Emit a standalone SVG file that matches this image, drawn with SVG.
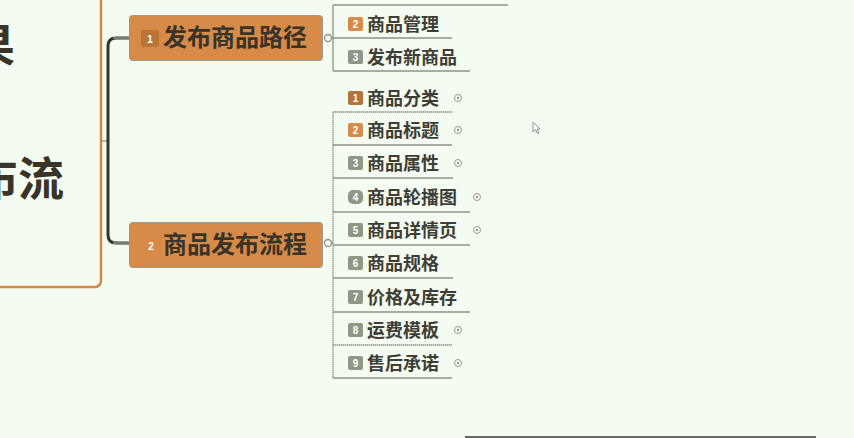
<svg xmlns="http://www.w3.org/2000/svg" width="854" height="438" viewBox="0 0 854 438">
<defs>
<style>
.bg{fill:#f4fbf1}
.main{fill:#d68c48;stroke:#9a9a88;stroke-width:1}
.mt{font-family:"Noto Sans CJK SC","Noto Sans",sans-serif;font-weight:bold;font-size:24px;fill:#3a3328}
.ct{font-family:"Noto Sans CJK SC","Noto Sans",sans-serif;font-weight:bold;font-size:46px;fill:#3a3328}
.st{font-family:"Noto Sans CJK SC","Noto Sans",sans-serif;font-weight:bold;font-size:18px;fill:#3e3e36}
.ul{stroke:#8c9484;stroke-width:1.5;fill:none}
.ln{stroke:#8c9484;stroke-width:1.3;fill:none}
.bo{fill:#d68c48}
.bg2{fill:#8f9785}
.bb{fill:#b5723a}
.bn{font-family:"Liberation Sans",sans-serif;font-weight:bold;font-size:10px;fill:#ffffff;text-anchor:middle}
.ic{fill:none;stroke:#9a9a8a;stroke-width:1}
.icd{fill:#9a9a8a}
.kn{fill:#f4fbf1;stroke:#8c9484;stroke-width:1.3}
</style>
</defs>
<rect class="bg" x="0" y="0" width="854" height="438"/>

<g id="center">
<rect x="-20" y="-20" width="121" height="307" rx="6" fill="#f4fbf1" stroke="#d48a45" stroke-width="2.5"/>
<text class="ct" x="15" y="62" text-anchor="end">果</text>
<text class="ct" x="64" y="195" text-anchor="end">布流</text>
</g>

<g id="connectors">
<path d="M101 141 H108" class="ln"/>
<path d="M130 38 H116 Q108 38 108 46 V235 Q108 243 116 243 H130" fill="none" stroke="#35352c" stroke-width="3"/>
<path d="M113 38 H130 M113 243 H130" class="ln"/>
<path d="M331 38 H333" class="ln"/>
<path d="M333 5 V71" class="ln"/>
<path d="M333 5 H508" class="ul"/>
<path d="M331 243 H333" class="ln"/>
<path d="M333 112 V378" class="ln" stroke-dasharray="1.5 0.5"/>
</g>

<g id="node1">
<rect class="main" x="129.5" y="15.5" width="193" height="45" rx="3"/>
<rect x="141" y="30" width="18" height="17" rx="2" fill="#b97538"/>
<text class="bn" x="150" y="43" font-size="12px">1</text>
<text class="mt" x="163" y="46">发布商品路径</text>
<circle class="kn" cx="328" cy="38" r="3.5"/>
</g>

<g id="node2">
<rect class="main" x="129.5" y="222.5" width="193" height="45" rx="3"/>
<text class="bn" x="151" y="250" font-size="13px">2</text>
<text class="mt" x="163" y="253">商品发布流程</text>
<circle class="kn" cx="328" cy="243" r="3.5"/>
</g>

<g id="n1c1">
<rect class="bo" x="348" y="17" width="15" height="14" rx="2"/>
<text class="bn" x="355.5" y="28">2</text>
<text class="st" x="367" y="31">商品管理</text>
<path class="ul" d="M333 38 H452"/>
</g>
<g id="n1c2">
<rect class="bg2" x="348" y="50" width="15" height="14" rx="2"/>
<text class="bn" x="355.5" y="61">3</text>
<text class="st" x="367" y="64">发布新商品</text>
<path class="ul" d="M333 71 H470"/>
</g>

<g id="n2c1">
<rect class="bb" x="348" y="91" width="15" height="14" rx="2"/>
<text class="bn" x="355.5" y="102">1</text>
<text class="st" x="367" y="105">商品分类</text>
<path class="ul" d="M333 112 H452" stroke-dasharray="1.5 0.5"/>
<circle class="ic" cx="458" cy="98" r="3.5"/><circle class="icd" cx="458" cy="98" r="1.2"/>
</g>
<g id="n2c2">
<rect class="bo" x="348" y="123" width="15" height="14" rx="2"/>
<text class="bn" x="355.5" y="134">2</text>
<text class="st" x="367" y="137">商品标题</text>
<path class="ul" d="M333 145 H452"/>
<circle class="ic" cx="458" cy="130" r="3.5"/><circle class="icd" cx="458" cy="130" r="1.2"/>
</g>
<g id="n2c3">
<rect class="bg2" x="348" y="156" width="15" height="14" rx="2"/>
<text class="bn" x="355.5" y="167">3</text>
<text class="st" x="367" y="170">商品属性</text>
<path class="ul" d="M333 178 H453"/>
<circle class="ic" cx="458" cy="163" r="3.5"/><circle class="icd" cx="458" cy="163" r="1.2"/>
</g>
<g id="n2c4">
<rect class="bg2" x="348" y="190" width="15" height="14" rx="5"/>
<text class="bn" x="355.5" y="201">4</text>
<text class="st" x="367" y="204">商品轮播图</text>
<path class="ul" d="M333 212 H470"/>
<circle class="ic" cx="477" cy="197" r="3.5"/><circle class="icd" cx="477" cy="197" r="1.2"/>
</g>
<g id="n2c5">
<rect class="bg2" x="348" y="223" width="15" height="14" rx="2"/>
<text class="bn" x="355.5" y="234">5</text>
<text class="st" x="367" y="237">商品详情页</text>
<path class="ul" d="M333 245 H470"/>
<circle class="ic" cx="477" cy="230" r="3.5"/><circle class="icd" cx="477" cy="230" r="1.2"/>
</g>
<g id="n2c6">
<rect class="bg2" x="348" y="256" width="15" height="14" rx="2"/>
<text class="bn" x="355.5" y="267">6</text>
<text class="st" x="367" y="270">商品规格</text>
<path class="ul" d="M333 278 H453"/>
</g>
<g id="n2c7">
<rect class="bg2" x="348" y="290" width="15" height="14" rx="2"/>
<text class="bn" x="355.5" y="301">7</text>
<text class="st" x="367" y="304">价格及库存</text>
<path class="ul" d="M333 312 H470"/>
</g>
<g id="n2c8">
<rect class="bg2" x="348" y="323" width="15" height="14" rx="2"/>
<text class="bn" x="355.5" y="334">8</text>
<text class="st" x="367" y="337">运费模板</text>
<path class="ul" d="M333 345 H452" stroke-dasharray="1.5 0.5"/>
<circle class="ic" cx="458" cy="330" r="3.5"/><circle class="icd" cx="458" cy="330" r="1.2"/>
</g>
<g id="n2c9">
<rect class="bg2" x="348" y="356" width="15" height="14" rx="2"/>
<text class="bn" x="355.5" y="367">9</text>
<text class="st" x="367" y="370">售后承诺</text>
<path class="ul" d="M333 378 H452"/>
<circle class="ic" cx="458" cy="363" r="3.5"/><circle class="icd" cx="458" cy="363" r="1.2"/>
</g>

<path d="M465 437 H816" stroke="#3a3a30" stroke-width="1.5"/>
<path d="M533 122 L533 132 L535.5 129.5 L537.5 133.5 L539 133 L537 129 L540 129 Z" fill="#ffffff" stroke="#7a7a70" stroke-width="0.8"/>
</svg>
